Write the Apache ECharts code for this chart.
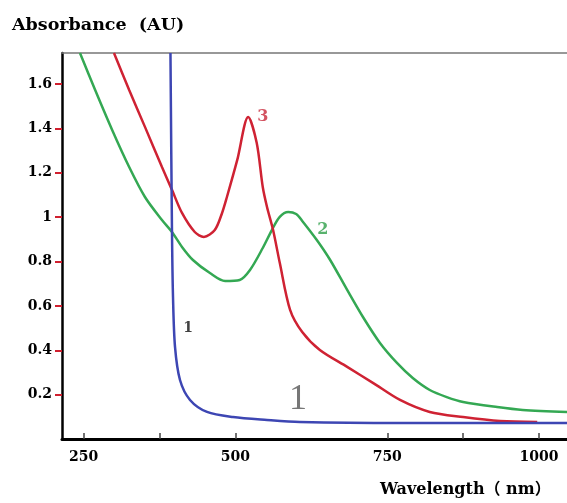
<!DOCTYPE html>
<html>
<head>
<meta charset="utf-8">
<script src="https://cdn.jsdelivr.net/npm/echarts@6/dist/echarts.min.js"></script>
<style>html,body{margin:0;padding:0;background:#fff}#c{width:567px;height:503px}</style>
</head>
<body>
<div id="c"></div>
<script>
// Wavelength (nm) / absorbance (AU) pairs
const curve1 = [[393,1.74],[395.5,0.942],[397.2,0.640],[400.5,0.415],[408.7,0.266],[425.2,0.176],[453.2,0.122],[496,0.099],[552,0.086],[606,0.077],[771,0.072],[936,0.072],[1046,0.072]];
const curve2 = [[244,1.74],[269,1.573],[297,1.393],[325,1.226],[351,1.091],[379,0.987],[395.5,0.933],[412,0.866],[430,0.807],[458,0.748],[483,0.712],[507,0.717],[524,0.762],[545,0.861],[560,0.942],[573,1.001],[587,1.023],[600,1.014],[610,0.983],[634,0.897],[656,0.807],[684,0.672],[710,0.550],[738,0.433],[766,0.343],[792,0.275],[820,0.221],[848,0.189],[875,0.167],[931,0.144],[973,0.131],[1046,0.122]];
const curve3 = [[300,1.74],[325,1.573],[351,1.407],[379,1.226],[395.5,1.123],[412,1.019],[433,0.933],[448,0.911],[466,0.942],[478,1.019],[486,1.091],[503,1.258],[521,1.452],[535,1.335],[545,1.136],[552,1.046],[562,0.942],[573,0.794],[590,0.582],[610,0.482],[639,0.401],[684,0.325],[727,0.252],[771,0.176],[820,0.122],[875,0.099],[936,0.081],[997,0.077]];
const xTicks = [250, 500, 750, 1000];
const xMinorTicks = [375, 875];
const yTicks = [0.2, 0.4, 0.6, 0.8, 1, 1.2, 1.4, 1.6];
const labels = [
  {text: '3', x: 545, y: 1.452, color: '#c8283a', size: 16, weight: 'bold', family: 'DejaVu Serif'},
  {text: '2', x: 644, y: 0.942, color: '#2e9f48', size: 16, weight: 'bold', family: 'DejaVu Serif'},
  {text: '1', x: 422, y: 0.500, color: '#111', size: 14, weight: 'bold', family: 'DejaVu Serif'},
  {text: '1', x: 603, y: 0.176, color: '#555', size: 36, weight: 'normal', family: 'Liberation Serif'}
];

const chart = echarts.init(document.getElementById('c'));
const serif = 'DejaVu Serif';
function line(data, color) {
  return {type: 'line', data: data, showSymbol: false, smooth: 0.3,
    lineStyle: {color: color, width: 2.5}, clip: true, z: 3};
}
const s1 = line(curve1, '#3d46b3');
const s2 = line(curve2, '#34a853');
const s3 = line(curve3, '#cf2233');
const notes = {type: 'scatter', z: 5, silent: true, symbol: 'circle', symbolSize: 1,
  itemStyle: {color: 'rgba(0,0,0,0)'},
  data: labels.map(l => ({
    value: [l.x, l.y],
    label: {show: true, formatter: l.text, color: l.color, fontSize: l.size, fontWeight: l.weight, fontFamily: l.family, position: 'inside'}
  }))};

chart.setOption({
  animation: false,
  backgroundColor: '#fff',
  grid: {left: 62, right: 0, top: 53, bottom: 64, containLabel: false},
  xAxis: [{
    type: 'value', min: 214.4, max: 1046,
    axisLine: {show: true, onZero: false, lineStyle: {color: '#000', width: 3}},
    axisTick: {show: true, inside: true, length: 6, lineStyle: {color: '#444', width: 1.5}, customValues: xTicks.concat(xMinorTicks)},
    axisLabel: {customValues: xTicks, color: '#000', fontFamily: serif, fontWeight: 'bold', fontSize: 14, margin: 11, formatter: v => String(v)},
    splitLine: {show: false}
  }, {
    type: 'value', position: 'top', min: 214.4, max: 1046,
    axisLine: {show: true, onZero: false, lineStyle: {color: '#777', width: 1.5}},
    axisTick: {show: false}, axisLabel: {show: false}, splitLine: {show: false}
  }],
  yAxis: {
    type: 'value', min: 0, max: 1.74,
    axisLine: {show: true, onZero: false, lineStyle: {color: '#000', width: 2.5}},
    axisTick: {show: true, length: 7, customValues: yTicks, lineStyle: {color: '#d0202f', width: 2}},
    axisLabel: {customValues: yTicks, color: '#000', fontFamily: serif, fontWeight: 'bold', fontSize: 14, margin: 10,
      formatter: v => String(v)},
    splitLine: {show: false}
  },
  graphic: [
    {type: 'text', left: 12, top: 16, style: {text: 'Absorbance  (AU)', fontFamily: 'DejaVu Serif', fontWeight: 'bold', fontSize: 17.5, fill: '#000'}},
    {type: 'text', left: 380, top: 482, style: {text: 'Wavelength（ nm）', fontFamily: 'DejaVu Serif, Noto Sans CJK SC', fontWeight: 'bold', fontSize: 16, fill: '#000'}}
  ],
  series: [s2, s3, s1, notes]
});
</script>
</body>
</html>
